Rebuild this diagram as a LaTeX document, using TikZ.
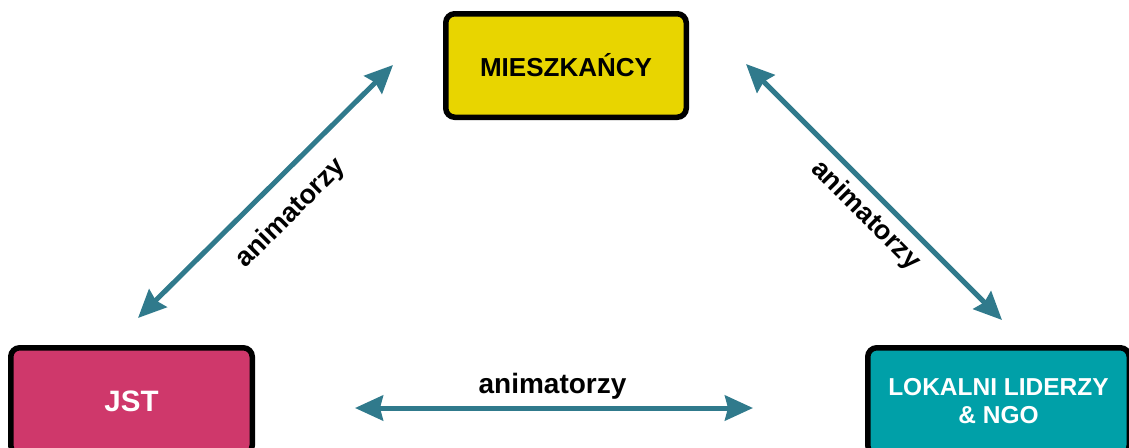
\documentclass[tikz,border=0pt]{standalone}
\usepackage{fontspec}
\setmainfont{Liberation Sans}
\usetikzlibrary{arrows.meta}
\definecolor{boxyellow}{HTML}{E8D500}
\definecolor{boxpink}{HTML}{CF386B}
\definecolor{boxteal}{HTML}{00A0A8}
\definecolor{arrowblue}{HTML}{307A8C}
\tikzset{
  actor/.style={draw=black, line width=5.5pt, rounded corners=9pt, inner sep=0pt,
    font=\bfseries, align=center},
  link/.style={draw=arrowblue, line width=5pt,
    {Stealth[length=28pt,width=25pt,inset=3pt]}-{Stealth[length=28pt,width=25pt,inset=3pt]}},
  linklabel/.style={font=\fontsize{27}{30}\selectfont\bfseries, inner sep=0pt}
}
\begin{document}
\begin{tikzpicture}[x=1pt,y=-1pt]
\useasboundingbox (0,0) rectangle (1129,447);
\clip (0,0) rectangle (1129,447);
\node[actor, fill=boxyellow, minimum width=240.5pt, minimum height=103.5pt,
  font=\fontsize{26}{30}\selectfont\bfseries] (m) at (566,65.5) {MIESZKAŃCY};
\node[actor, fill=boxpink, text=white, minimum width=241.5pt, minimum height=106.5pt,
  font=\fontsize{29.5}{32}\selectfont\bfseries] (j) at (131.5,401) {JST};
\node[actor, fill=boxteal, text=white, minimum width=261.5pt, minimum height=106.5pt,
  font=\fontsize{24.5}{28}\selectfont\bfseries] (l) at (998.5,401) {LOKALNI LIDERZY\\\& NGO};
\coordinate (a1) at (138,318);
\coordinate (a2) at (393,65);
\coordinate (b1) at (746,64);
\coordinate (b2) at (1002,320);
\coordinate (c1) at (355,408);
\coordinate (c2) at (753,408);
\draw[link] (a1) -- (a2);
\draw[link] (b1) -- (b2);
\draw[link] (c1) -- (c2);
\node[linklabel, rotate=45] (la) at (291,213.5) {animatorzy};
\node[linklabel, rotate=-45] (lb) at (865.5,215.5) {animatorzy};
\node[linklabel, font=\fontsize{28}{30}\selectfont\bfseries] (lc) at (552.5,386) {animatorzy};
\end{tikzpicture}
\end{document}
